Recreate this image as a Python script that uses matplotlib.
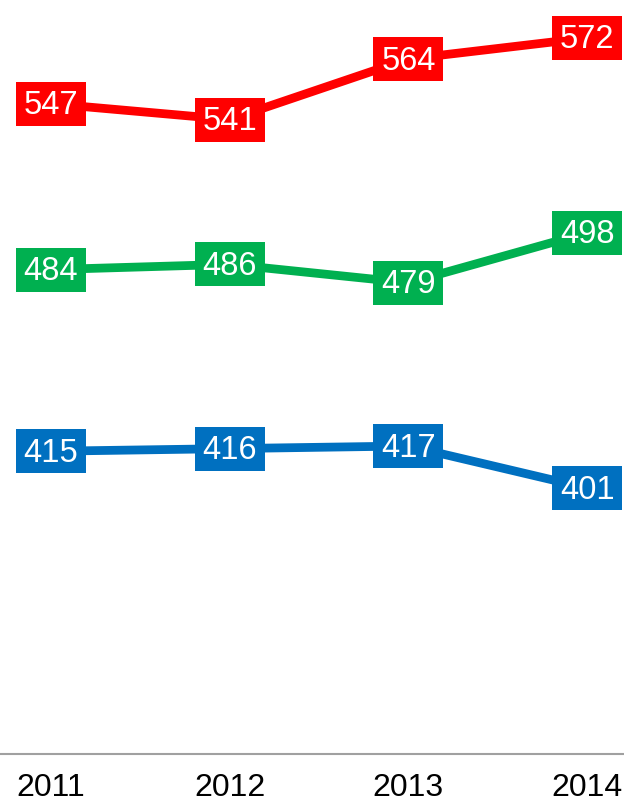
import numpy as np
import matplotlib
matplotlib.use("Agg")
import matplotlib.pyplot as plt
from matplotlib.path import Path

plt.rcParams['font.family'] = ['Liberation Sans', 'DejaVu Sans']

years = ['2011', '2012', '2013', '2014']
red_vals = [547, 541, 564, 572]
green_vals = [484, 486, 479, 498]
blue_vals = [415, 416, 417, 401]

series = [
    (red_vals, '#FF0000'),
    (green_vals, '#00B050'),
    (blue_vals, '#0070C0'),
]

# rectangular marker used as the label box (70 x 44 px)
box = Path([(-1, -0.629), (1, -0.629), (1, 0.629), (-1, 0.629), (-1, -0.629)],
           [Path.MOVETO, Path.LINETO, Path.LINETO, Path.LINETO, Path.CLOSEPOLY])

fig = plt.figure(figsize=(6.24, 8.06), dpi=100)
ax = fig.add_axes([0, 52 / 806, 1, 754 / 806])

x = np.arange(len(years))
for vals, col in series:
    ax.plot(x, vals, color=col, lw=6.3, solid_capstyle='butt', zorder=2, clip_on=False)
    ax.plot(x, vals, ls='none', marker=box, markersize=50.4, markerfacecolor=col,
            markeredgewidth=0, zorder=3, clip_on=False)
    for xi, v in zip(x, vals):
        ax.annotate(str(v), (xi, v), xytext=(0, -1.5), textcoords='offset points',
                    color='white', fontsize=23.5, ha='center', va='center',
                    zorder=4, annotation_clip=False)

ax.set_xlim(-0.285, 3.206)
ax.set_ylim(300, 586.4)
ax.set_xticks(x)
ax.set_xticklabels(years, fontsize=23, color='black')
ax.tick_params(axis='x', length=0, pad=14)
ax.set_yticks([])
for s in ['top', 'left', 'right']:
    ax.spines[s].set_visible(False)
ax.spines['bottom'].set_color('#A0A0A0')
ax.spines['bottom'].set_linewidth(1.5)

fig.savefig('out.png', dpi=100)
